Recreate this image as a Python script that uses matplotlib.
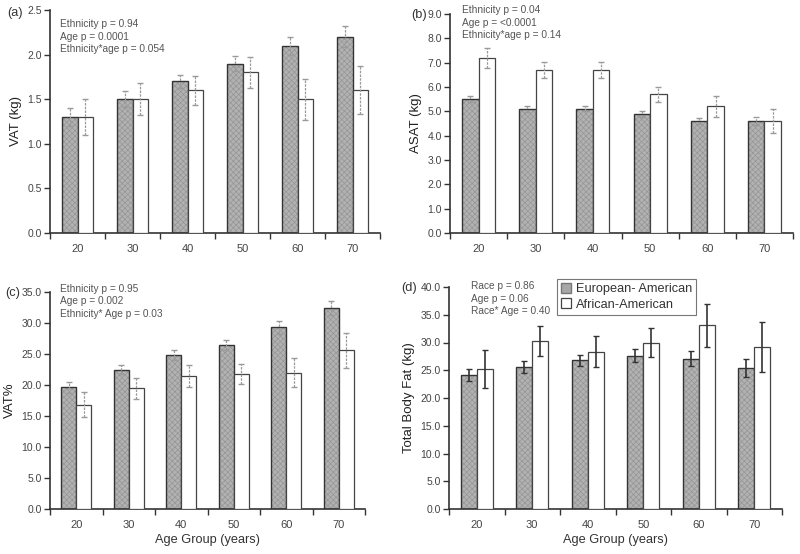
import matplotlib
matplotlib.use("Agg")
import matplotlib.pyplot as plt
import numpy as np

plt.rcParams['font.family'] = ['Liberation Sans', 'DejaVu Sans']
plt.rcParams['hatch.linewidth'] = 0.5

ages = ["20", "30", "40", "50", "60", "70"]

vat_ea = [1.3, 1.5, 1.7, 1.9, 2.1, 2.2]
vat_ea_err = [0.10, 0.09, 0.07, 0.08, 0.10, 0.12]
vat_aa = [1.3, 1.5, 1.6, 1.8, 1.5, 1.6]
vat_aa_err = [0.20, 0.18, 0.16, 0.17, 0.23, 0.27]

asat_ea = [5.5, 5.1, 5.1, 4.9, 4.6, 4.6]
asat_ea_err = [0.12, 0.13, 0.10, 0.12, 0.13, 0.16]
asat_aa = [7.2, 6.7, 6.7, 5.7, 5.2, 4.6]
asat_aa_err = [0.42, 0.32, 0.32, 0.32, 0.42, 0.50]

vatp_ea = [19.6, 22.5, 24.9, 26.5, 29.3, 32.4]
vatp_ea_err = [0.9, 0.8, 0.8, 0.8, 1.0, 1.1]
vatp_aa = [16.8, 19.5, 21.5, 21.8, 22.0, 25.6]
vatp_aa_err = [2.0, 1.7, 1.8, 1.6, 2.3, 2.8]

tbf_ea = [24.2, 25.6, 26.8, 27.6, 27.1, 25.4]
tbf_ea_err = [1.1, 1.1, 1.0, 1.2, 1.4, 1.6]
tbf_aa = [25.2, 30.3, 28.3, 30.0, 33.1, 29.2]
tbf_aa_err = [3.4, 2.7, 2.8, 2.7, 3.9, 4.5]

W, H = 800, 554


def fx(px):
    return px / W


def fy(py):
    return 1 - py / H


panels = [
    dict(box=(50, 10, 380, 233), ea=vat_ea, eae=vat_ea_err, aa=vat_aa, aae=vat_aa_err,
         ymax=2.5, step=0.5, ylabel="VAT (kg)", tag="(a)", tagxy=(7, 13),
         notes=["Ethnicity p = 0.94", "Age p = 0.0001", "Ethnicity*age p = 0.054"],
         notexy=(60, 24), dark_err=False, xlabel=None),
    dict(box=(450, 14, 793, 233), ea=asat_ea, eae=asat_ea_err, aa=asat_aa, aae=asat_aa_err,
         ymax=9.0, step=1.0, ylabel="ASAT (kg)", tag="(b)", tagxy=(411, 15),
         notes=["Ethnicity p = 0.04", "Age p = <0.0001", "Ethnicity*age p = 0.14"],
         notexy=(462, 10), dark_err=False, xlabel=None),
    dict(box=(50, 292, 365, 509), ea=vatp_ea, eae=vatp_ea_err, aa=vatp_aa, aae=vatp_aa_err,
         ymax=35.0, step=5.0, ylabel="VAT%", tag="(c)", tagxy=(5, 293),
         notes=["Ethnicity p = 0.95", "Age p = 0.002", "Ethnicity* Age p = 0.03"],
         notexy=(60, 289), dark_err=False, xlabel="Age Group (years)"),
    dict(box=(449, 287, 782, 509), ea=tbf_ea, eae=tbf_ea_err, aa=tbf_aa, aae=tbf_aa_err,
         ymax=40.0, step=5.0, ylabel="Total Body Fat (kg)", tag="(d)", tagxy=(401, 288),
         notes=["Race p = 0.86", "Age p = 0.06", "Race* Age = 0.40"],
         notexy=(471, 286), dark_err=True, xlabel="Age Group (years)"),
]

fig = plt.figure(figsize=(8, 5.54), dpi=100)
x = np.arange(len(ages))
w = 0.29
for i, p in enumerate(panels):
    l, t, r, b = p['box']
    ax = fig.add_axes([fx(l), fy(b), (r - l) / W, (b - t) / H])
    ax.bar(x - w / 2, p['ea'], w, color='#b2b2b2', hatch='xxxxxx', edgecolor='#959595', linewidth=0, zorder=2)
    b1 = ax.bar(x - w / 2, p['ea'], w, facecolor='none', edgecolor='#333333', linewidth=1.0, zorder=3,
                label='European- American')
    b2 = ax.bar(x + w / 2, p['aa'], w, facecolor='white', edgecolor='#444444', linewidth=0.9, zorder=3,
                label='African-American')
    ecol = '#333333' if p['dark_err'] else '#9a9a9a'
    for xs, vals, errs in [(x - w / 2, p['ea'], p['eae']), (x + w / 2, p['aa'], p['aae'])]:
        eb = ax.errorbar(xs, vals, yerr=errs, fmt='none', ecolor=ecol,
                         elinewidth=1.2 if p['dark_err'] else 0.9,
                         capsize=2.5, capthick=1.0, zorder=4)
        if not p['dark_err']:
            for lc in eb[2]:
                lc.set_linestyle((0, (2, 1)))
    ax.set_xlim(-0.5, len(ages) - 0.5)
    ax.set_ylim(0, p['ymax'])
    ticks = np.arange(0, p['ymax'] + p['step'] / 2, p['step'])
    ax.set_yticks(ticks)
    ax.set_yticklabels([f"{tk:.1f}" for tk in ticks])
    ax.set_xticks(np.arange(-0.5, len(ages) + 0.5, 1.0))
    ax.set_xticklabels([])
    ax.set_xticks(x, minor=True)
    ax.set_xticklabels(ages, minor=True)
    ax.tick_params(axis='x', which='major', length=4, width=1, color='#333333', direction='out')
    ax.tick_params(axis='x', which='minor', length=0, pad=8, labelsize=8, labelcolor='#444444')
    ax.tick_params(axis='y', length=4, width=1, color='#333333', direction='out', labelsize=7.5,
                   labelcolor='#444444', pad=2)
    for s in ['top', 'right']:
        ax.spines[s].set_visible(False)
    for s in ['left', 'bottom']:
        ax.spines[s].set_color('#333333')
        ax.spines[s].set_linewidth(1.2)
    ax.set_ylabel(p['ylabel'], fontsize=9.5, color='#222222', labelpad=4)
    if p['xlabel']:
        ax.set_xlabel(p['xlabel'], fontsize=9.2, color='#333333', labelpad=3)
    fig.text(fx(p['tagxy'][0]), fy(p['tagxy'][1]), p['tag'], fontsize=9.2, color='#333333',
             ha='left', va='center')
    nx, ny = p['notexy']
    for k, txt in enumerate(p['notes']):
        fig.text(fx(nx), fy(ny + k * 12.5), txt, fontsize=7.3, color='#555555', ha='left', va='center')
    if i == 3:
        leg = ax.legend(handles=[b1, b2], loc='upper left', bbox_to_anchor=(0.324, 1.036),
                        borderaxespad=0, fontsize=9.2,
                        frameon=True, fancybox=False, edgecolor='#555555', handlelength=0.8,
                        handleheight=0.8, handletextpad=0.4, borderpad=0.3, labelspacing=0.25,
                        labelcolor='#333333')
        leg.get_frame().set_linewidth(0.8)
        h = leg.legend_handles
        h[0].set_facecolor('#a8a8a8')
        h[0].set_edgecolor('#777777')

fig.savefig("out.png", dpi=100)
